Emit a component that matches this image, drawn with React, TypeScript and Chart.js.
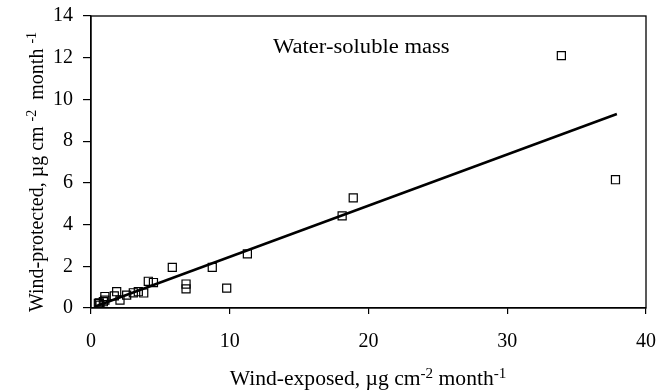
import { useEffect, useRef } from "react";
import { Chart, registerables } from "chart.js";

Chart.register(...registerables);

const windExposed = [0.53, 0.65, 0.6, 0.89, 1.0, 1.0, 1.68, 1.85, 2.09, 2.57, 3.05, 3.41, 3.8, 4.13, 4.5, 5.86, 6.85, 6.85, 8.74, 9.78, 11.27, 18.1, 18.9, 33.9, 37.8];
const windProtected = [0.22, 0.14, 0.25, 0.3, 0.55, 0.38, 0.58, 0.78, 0.38, 0.62, 0.73, 0.78, 0.72, 1.28, 1.22, 1.95, 1.15, 0.92, 1.95, 0.95, 2.6, 4.42, 5.28, 12.1, 6.15];
const fitX = [0.3, 37.9];
const fitY = [0.07, 9.3];
const xRange = [0, 40, 10];
const yRange = [0, 14, 2];
const annotationText = "Water-soluble mass";
const xTitleParts = [
  { t: "Wind-exposed, µg cm", sup: false },
  { t: "-2", sup: true },
  { t: " month", sup: false },
  { t: "-1", sup: true },
];
const yTitleParts = [
  { t: "Wind-protected, µg cm ", sup: false },
  { t: "-2", sup: true },
  { t: "  month ", sup: false },
  { t: "-1", sup: true },
];

const FONT = "'Liberation Serif', 'Times New Roman', serif";

function drawParts(ctx: CanvasRenderingContext2D, parts: { t: string; sup: boolean }[], cx: number, cy: number) {
  const main = `20px ${FONT}`;
  const small = `14px ${FONT}`;
  let total = 0;
  for (const p of parts) {
    ctx.font = p.sup ? small : main;
    total += ctx.measureText(p.t).width;
  }
  let x = cx - total / 2;
  ctx.textBaseline = "alphabetic";
  ctx.textAlign = "left";
  for (const p of parts) {
    ctx.font = p.sup ? small : main;
    ctx.fillText(p.t, x, p.sup ? cy - 7 : cy);
    x += ctx.measureText(p.t).width;
  }
}

const framePlugin = {
  id: "frameAndTitles",
  afterDraw(chart: any) {
    const { ctx, chartArea } = chart;
    ctx.save();
    ctx.strokeStyle = "#000";
    ctx.lineWidth = 1.3;
    ctx.strokeRect(chartArea.left, chartArea.top, chartArea.right - chartArea.left, chartArea.bottom - chartArea.top);
    ctx.fillStyle = "#000";
    ctx.save();
    ctx.translate(368, 385);
    ctx.scale(1.08, 1);
    drawParts(ctx, xTitleParts, 0, 0);
    ctx.restore();
    ctx.save();
    ctx.translate(43, 172);
    ctx.rotate(-Math.PI / 2);
    drawParts(ctx, yTitleParts, 0, 0);
    ctx.restore();
    ctx.save();
    ctx.translate(273, 53);
    ctx.scale(1.13, 1);
    ctx.font = `20px ${FONT}`;
    ctx.textAlign = "left";
    ctx.textBaseline = "alphabetic";
    ctx.fillText(annotationText, 0, 0);
    ctx.restore();
    ctx.restore();
  },
};

export default function App() {
  const ref = useRef<HTMLCanvasElement | null>(null);
  useEffect(() => {
    document.body.style.margin = "0";
    const canvas = ref.current!;
    const chart = new Chart(canvas, {
      type: "scatter",
      data: {
        datasets: [
          {
            type: "line",
            data: fitX.map((x, i) => ({ x, y: fitY[i] })),
            borderColor: "#000",
            borderWidth: 2.5,
            pointRadius: 0,
            fill: false,
          },
          {
            type: "scatter",
            data: windExposed.map((x, i) => ({ x, y: windProtected[i] })),
            pointStyle: "rect",
            pointRadius: 5.7,
            borderColor: "#000",
            borderWidth: 1.2,
            backgroundColor: "rgba(255,255,255,0)",
          },
        ],
      },
      options: {
        animation: false,
        responsive: false,
        layout: { padding: { left: 0, top: 16, right: 13, bottom: 0 } },
        plugins: { legend: { display: false }, tooltip: { enabled: false } },
        scales: {
          x: {
            type: "linear",
            min: xRange[0],
            max: xRange[1],
            afterFit: (s: any) => { s.height = 83; s.paddingLeft = 0; s.paddingRight = 0; },
            ticks: { stepSize: xRange[2], color: "#000", font: { family: FONT, size: 20 }, padding: 16 },
            grid: { drawOnChartArea: false, drawTicks: true, tickLength: 6, color: "#000", lineWidth: 1.2 },
            border: { color: "#000", width: 1.3 },
          },
          y: {
            type: "linear",
            min: yRange[0],
            max: yRange[1],
            afterFit: (s: any) => { s.width = 91; s.paddingTop = 0; s.paddingBottom = 0; },
            ticks: { stepSize: yRange[2], color: "#000", font: { family: FONT, size: 20 }, padding: 10 },
            grid: { drawOnChartArea: false, drawTicks: true, tickLength: 8, color: "#000", lineWidth: 1.2 },
            border: { color: "#000", width: 1.3 },
          },
        },
      },
      plugins: [framePlugin],
    } as any);
    return () => chart.destroy();
  }, []);
  return <canvas ref={ref} width={659} height={391} style={{ display: "block" }} />;
}
